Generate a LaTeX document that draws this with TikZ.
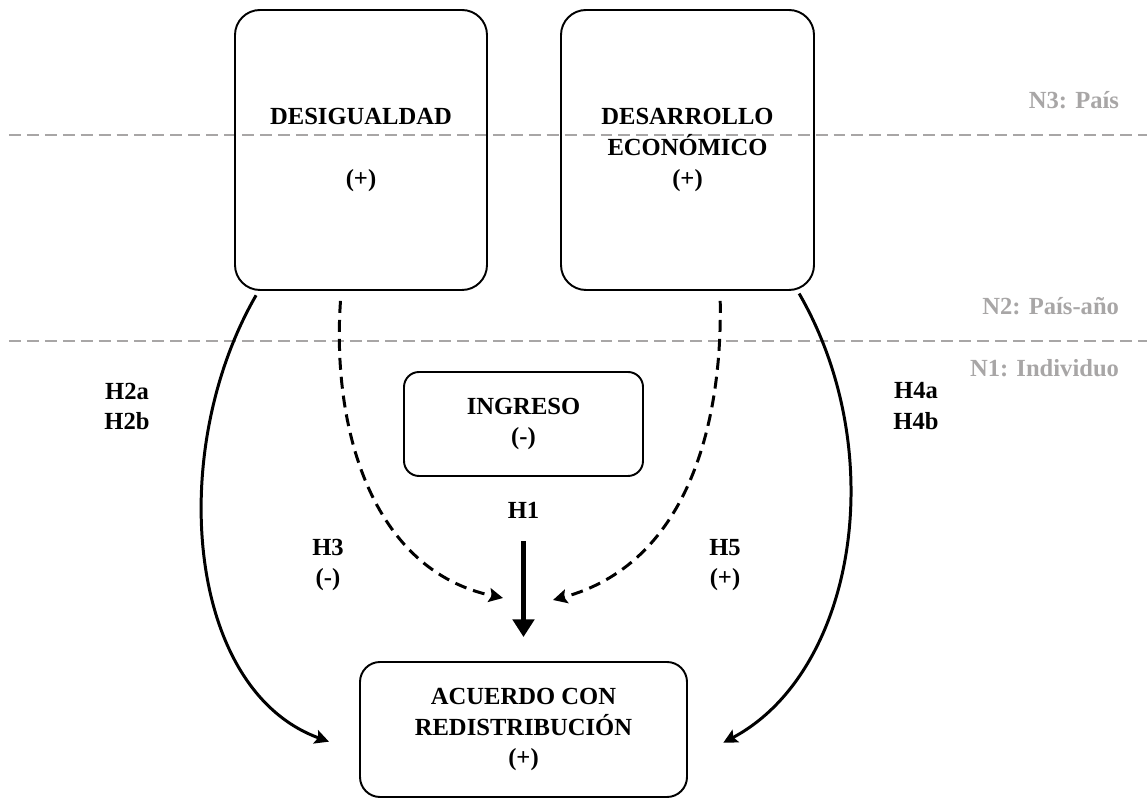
\documentclass[tikz,border=0pt]{standalone}
\usepackage{fontspec}
\setmainfont{Liberation Serif}
\usetikzlibrary{arrows.meta}
\definecolor{levelgray}{RGB}{168,166,166}

\begin{document}
\begin{tikzpicture}
	[line width=1.1pt,
	every node/.style = {
		font=\bfseries\fontsize{14}{17.5}\selectfont,
		align=center
	},
	box/.style = {
		draw, rounded corners=0.5cm, inner sep=0cm
	},
	hyp/.style = {
		inner sep=0cm
	},
	level/.style = {
		text=levelgray, anchor=east, inner sep=0cm
	},
	levelline/.style = {
		draw=levelgray, dash pattern=on 6.8pt off 3.4pt
	},
	effect/.style = {
		line width=1.7pt, -{Stealth[length=8pt,width=8pt,inset=1.5pt]}
	},
	moderation/.style = {
		effect, dash pattern=on 6.8pt off 4pt
	}]
	
	\useasboundingbox (0,0) rectangle (22.94,15.96);
	
	%Draw level lines
	\coordinate (l3a) at (0.18,13.26);
	\coordinate (l3b) at (22.94,13.26);
	\coordinate (l2a) at (0.18,9.14);
	\coordinate (l2b) at (22.94,9.14);
	\draw[levelline] (l3a) -- (l3b);
	\draw[levelline] (l2a) -- (l2b);
	
	\node[level] at (22.4,13.96) (n3) {N3: País};
	\node[level] at (22.4,9.84) (n2) {N2: País-año};
	\node[level] at (22.4,8.6) (n1) {N1: Individuo};
	
	%Draw nodes
	\node[box, minimum width=5.04cm, minimum height=5.6cm] at (7.22,12.96) (desig) {DESIGUALDAD\\[17.5pt](+)};
	\node[box, minimum width=5.06cm, minimum height=5.6cm] at (13.75,12.96) (desarr) {DESARROLLO\\ECONÓMICO\\(+)};
	\node[box, rounded corners=0.3cm, minimum width=4.78cm, minimum height=2.08cm] at (10.47,7.48) (ingreso) {INGRESO\\(-)};
	\node[box, rounded corners=0.4cm, minimum width=6.54cm, minimum height=2.7cm] at (10.47,1.37) (acuerdo) {ACUERDO CON\\REDISTRIBUCIÓN\\(+)};
	
	\node[hyp] at (2.54,7.83) (h2) {H2a\\H2b};
	\node[hyp] at (18.32,7.84) (h4) {H4a\\H4b};
	\node[hyp] at (6.56,4.66) (h3) {H3\\(-)};
	\node[hyp] at (14.5,4.66) (h5) {H5\\(+)};
	\node[hyp] at (10.47,5.76) (h1) {H1};
	
	\coordinate (h3tip) at (10.06,4.0);
	\coordinate (h5tip) at (11.06,3.96);
	
	%Draw arrows
	\draw[effect, shorten <=0.1cm, shorten >=0.64cm] (desig.234) to[out=240, in=160] (acuerdo.188);
	\draw[effect, shorten <=0.06cm, shorten >=0.8cm] (desarr.308) to[out=300, in=28] (acuerdo.-11);
	
	\draw[moderation, shorten <=0.2cm] (desig.262) to[out=266, in=168] (h3tip);
	\draw[moderation, shorten <=0.2cm] (desarr.283) to[out=271, in=15] (h5tip);
	
	\draw[line width=2.8pt, -{Triangle[length=10pt,width=12pt]}, shorten <=0.44cm, shorten >=0.48cm] (h1.south) -- (acuerdo.north);
	
\end{tikzpicture}
\end{document}
